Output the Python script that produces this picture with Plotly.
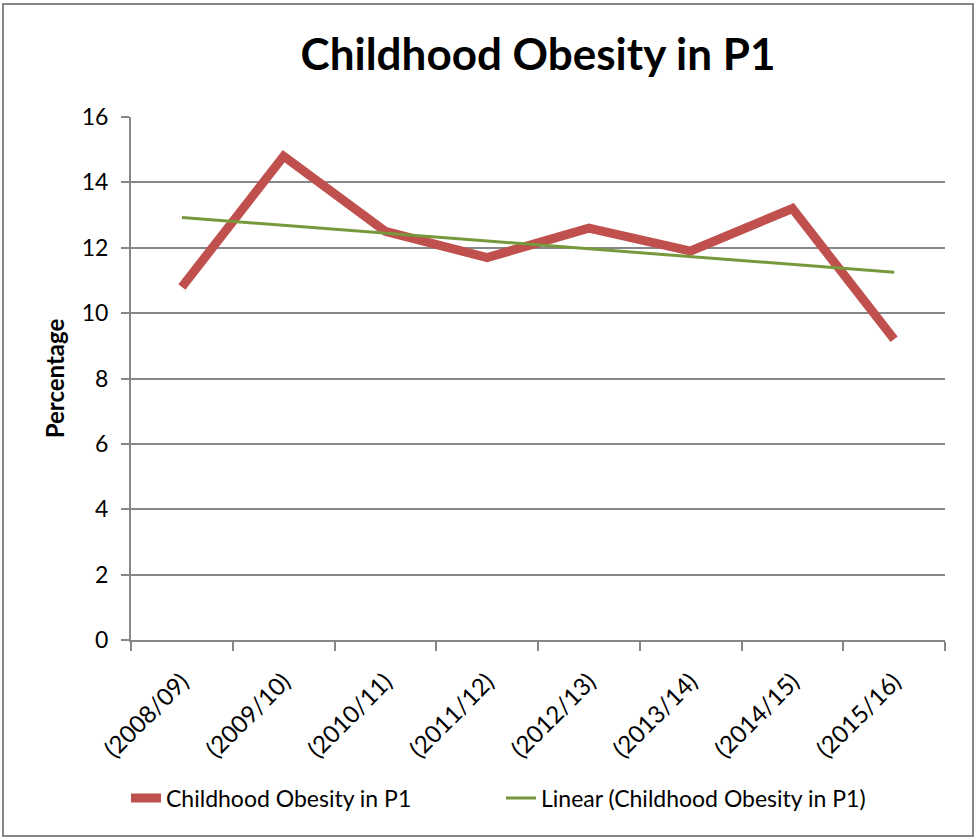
import numpy as np
import plotly.graph_objects as go

categories = ["(2008/09)", "(2009/10)", "(2010/11)", "(2011/12)",
              "(2012/13)", "(2013/14)", "(2014/15)", "(2015/16)"]
obesity = [10.8, 14.8, 12.5, 11.7, 12.6, 11.9, 13.2, 9.2]
y_ticks = [0, 2, 4, 6, 8, 10, 12, 14, 16]

xpos = list(range(len(categories)))
slope, intercept = np.polyfit(xpos, obesity, 1)
trend = [slope * x + intercept for x in xpos]

W, H = 976, 838
L, R, T, B = 131, 31, 117, 198
pw, ph = W - L - R, H - T - B

def px(x):
    return (x - L) / pw

def py(y):
    return (H - B - y) / ph

FONT = "Lato"

fig = go.Figure()
fig.add_trace(go.Scatter(x=xpos, y=obesity, mode="lines", name="Childhood Obesity in P1",
                         line=dict(color="#C0504D", width=9)))
fig.add_trace(go.Scatter(x=xpos, y=trend, mode="lines", name="Linear (Childhood Obesity in P1)",
                         line=dict(color="#77993C", width=3)))
# invisible trace on second axis to hold boundary tick marks
fig.add_trace(go.Scatter(x=[-0.5, 7.5], y=[0, 0], mode="markers", xaxis="x2",
                         marker=dict(opacity=0), showlegend=False, hoverinfo="skip"))

fig.update_layout(
    width=W, height=H,
    margin=dict(l=L, r=R, t=T, b=B),
    paper_bgcolor="white", plot_bgcolor="white",
    font=dict(family=FONT, color="black"),
    title=dict(text="<b>Childhood Obesity in P1</b>", x=0.5, xref="paper",
               y=1 - 55 / H, yanchor="middle", font=dict(size=44, family=FONT)),
    xaxis=dict(range=[-0.5, 7.5], tickmode="array", tickvals=xpos, ticktext=categories,
               tickangle=-45, showgrid=False, zeroline=False, ticks="",
               ticklabelstandoff=22,
               showline=False, tickfont=dict(size=24, family=FONT)),
    xaxis2=dict(range=[-0.5, 7.5], overlaying="x", side="bottom", tickmode="array",
                tickvals=[i - 0.5 for i in range(len(categories) + 1)],
                ticks="outside", ticklen=9, tickwidth=2, tickcolor="#878787",
                showticklabels=False, showgrid=False, zeroline=False,
                showline=True, linecolor="#878787", linewidth=2),
    yaxis=dict(range=[0, 16], tickmode="array", tickvals=y_ticks,
               showgrid=True, gridcolor="#878787", gridwidth=1.5,
               showline=True, linecolor="#878787", linewidth=2,
               ticks="outside", ticklen=8, tickwidth=2, tickcolor="#878787",
               ticklabelstandoff=8,
               zeroline=False, tickfont=dict(size=23, family=FONT),
               title=dict(text="<b>Percentage</b>", font=dict(size=24, family=FONT), standoff=10)),
    legend=dict(orientation="h", x=px(126), y=py(798), yanchor="middle", xanchor="left",
                font=dict(size=23, family=FONT), traceorder="normal",
                entrywidth=330),
    shapes=[dict(type="rect", xref="paper", yref="paper",
                 x0=px(3), x1=px(973), y0=py(836), y1=py(4),
                 line=dict(color="#868686", width=2), fillcolor="rgba(0,0,0,0)", layer="below")],
    showlegend=True,
)

fig.write_html("out.html", config={"displayModeBar": False},
               post_script="document.body.style.margin='0px';document.body.style.overflow='hidden';")
